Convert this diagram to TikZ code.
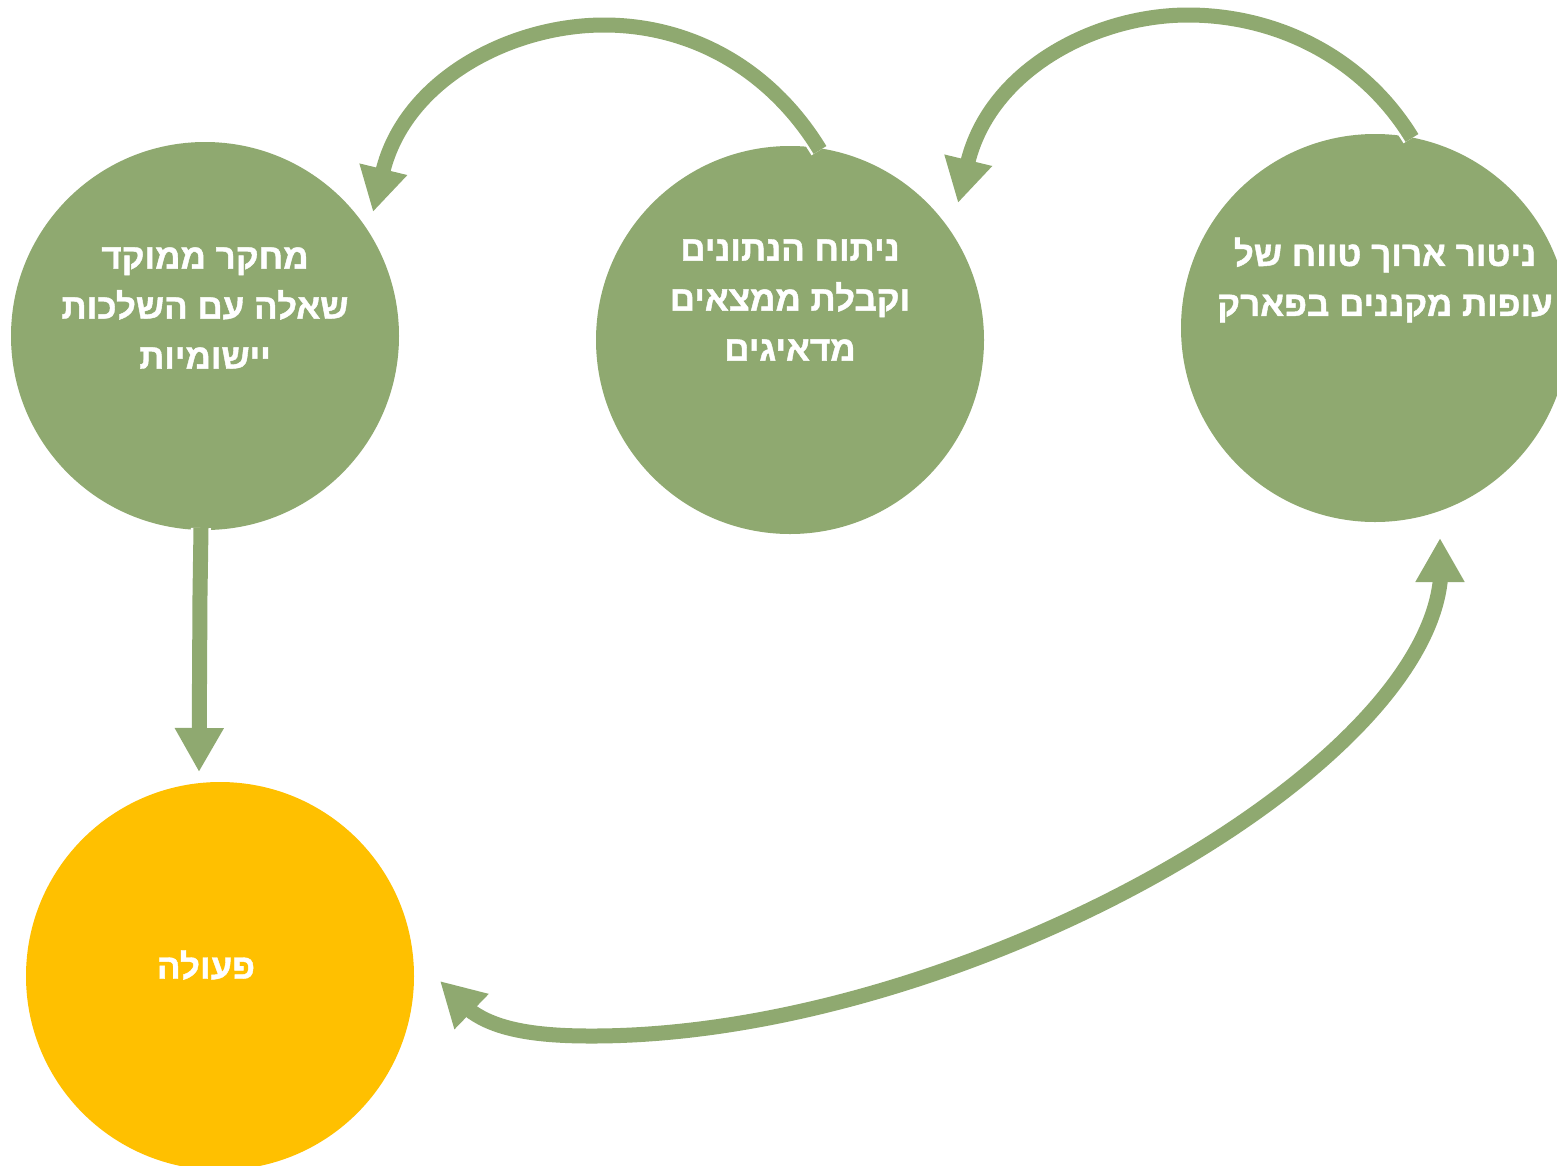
\documentclass[tikz,border=0pt]{standalone}
\usepackage{fontspec}
\setmainfont{Liberation Sans}
\newfontfamily\hebfont[Script=Hebrew,FakeBold=1.2]{Liberation Sans Bold}
\TeXXeTstate=1
\usetikzlibrary{arrows.meta}
\definecolor{cgreen}{RGB}{143,169,112}
\definecolor{cyellow}{RGB}{255,192,0}
\tikzset{
  stagecircle/.style={circle, fill=cgreen, draw=none, minimum size=388pt, inner sep=0pt},
  actcircle/.style={circle, fill=cyellow, draw=none, minimum size=388pt, inner sep=0pt},
  heblabel/.style={text=white, align=center, font=\hebfont\fontsize{35}{50}\selectfont},
  underlay/.style={draw=white, line width=20pt},
  flow/.style={draw=cgreen, line width=15pt, -{Triangle[length=44pt,width=46pt]}},
  flowboth/.style={draw=cgreen, line width=15pt, {Triangle[length=44pt,width=46pt]}-{Triangle[length=44pt,width=46pt]}}
}
\begin{document}
\begin{tikzpicture}[x=1pt,y=-1pt]
\useasboundingbox (0,0) rectangle (1557,1165);
\fill[white] (0,0) rectangle (1557,1165);
% circles
\node[stagecircle] (research) at (205,336) {};
\node[stagecircle] (analysis) at (790,340) {};
\node[stagecircle] (monitor) at (1375,328) {};
\node[actcircle] (action) at (220,976) {};
% labels
\node[heblabel] (tresearch) at (205,308) {\beginR מחקר ממוקד\endR\\\beginR שאלה עם השלכות\endR\\\beginR יישומיות\endR};
\node[heblabel] (tanalysis) at (790,300) {\beginR ניתוח הנתונים\endR\\\beginR וקבלת ממצאים\endR\\\beginR מדאיגים\endR};
\node[heblabel] (tmonitor) at (1385,280) {\beginR ניטור ארוך טווח של\endR\\\beginR עופות מקננים בפארק\endR};
\node[heblabel] (taction) at (206,965) {\beginR פעולה\endR};
% connector points
\coordinate (a1s) at (820,150);
\coordinate (a1p) at (604,25);
\coordinate (a1e) at (373,212);
\coordinate (a2s) at (1412,138);
\coordinate (a2p) at (1188,15);
\coordinate (a2e) at (958,203);
\coordinate (a3s) at (201,528);
\coordinate (a3m) at (200,595);
\coordinate (a3e) at (199,772);
\coordinate (a4s) at (1440,538);
\coordinate (a4b) at (1440,583);
\coordinate (a4m) at (590,1036);
\coordinate (a4n) at (472,1012);
\coordinate (a4e) at (440,981);
% underlays (white borders)
\draw[underlay] (a1s) .. controls (770,68) and (690,25) .. (a1p);
\draw[underlay] (a2s) .. controls (1362,56) and (1275,15) .. (a2p);
\draw[underlay] (a3s) -- (a3m) -- (199,700);
% connectors
\draw[flow] (a1s) .. controls (770,68) and (690,25) .. (a1p)
  .. controls (510,25) and (405,80) .. (a1e);
\draw[flow] (a2s) .. controls (1362,56) and (1275,15) .. (a2p)
  .. controls (1095,15) and (990,70) .. (a2e);
\draw[flow] (a3s) -- (a3m) -- (a3e);
\draw[flowboth] (a4s) -- (a4b) .. controls (1415,780) and (950,1037) .. (a4m)
  .. controls (530,1036) and (495,1028) .. (a4n) -- (a4e);
\end{tikzpicture}
\end{document}
